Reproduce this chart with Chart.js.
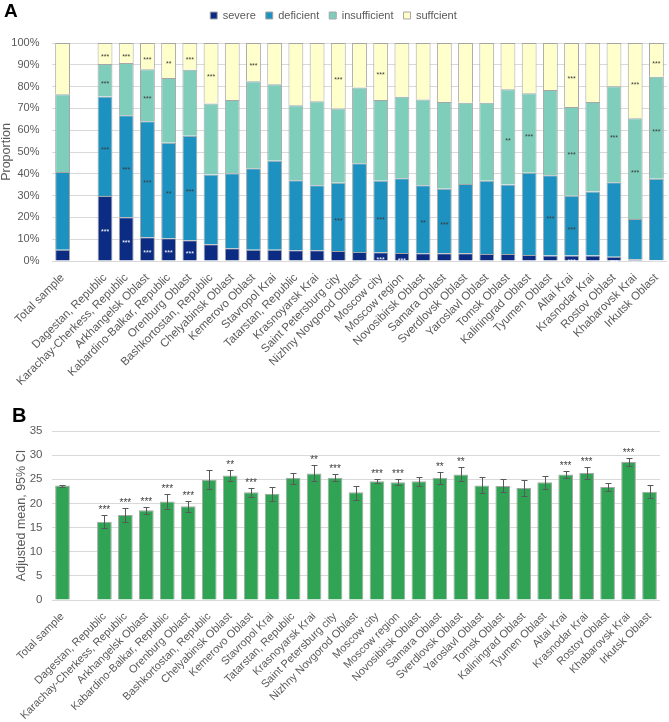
<!DOCTYPE html>
<html lang="en">
<head>
  <meta charset="UTF-8">
  <title>Vitamin D status by region</title>
  <script src="https://cdn.jsdelivr.net/npm/chart.js"></script>
  <style>
    body { margin: 0; background: #fff; font-family: 'Liberation Sans', Arial, sans-serif; }
    .wrap { position: relative; width: 669px; height: 722px; }
    canvas { position: absolute; left: 0; }
    #chartA { top: 0; }
    #chartB { top: 380px; }
    .tag { position: absolute; font-weight: bold; color: #000; line-height: 1; }
  </style>
</head>
<body>
<div class="wrap">
  <canvas id="chartA" width="669" height="390"></canvas>
  <canvas id="chartB" width="669" height="342"></canvas>
  <div class="tag" style="left:4px;top:1px;font-size:19px">A</div>
  <div class="tag" style="left:12px;top:405px;font-size:20px">B</div>
</div>
<script>
  const categories = ['Total sample', '', 'Dagestan, Republic', 'Karachay-Cherkess, Republic', 'Arkhangelsk Oblast',
    'Kabardino-Balkar, Republic', 'Orenburg Oblast', 'Bashkortostan, Republic', 'Chelyabinsk Oblast', 'Kemerovo Oblast',
    'Stavropol Krai', 'Tatarstan, Republic', 'Krasnoyarsk Krai', 'Saint Petersburg city', 'Nizhny Novgorod Oblast',
    'Moscow city', 'Moscow region', 'Novosibirsk Oblast', 'Samara Oblast', 'Sverdlovsk Oblast', 'Yaroslavl Oblast',
    'Tomsk Oblast', 'Kaliningrad Oblast', 'Tyumen Oblast', 'Altai Krai', 'Krasnodar Krai', 'Rostov Oblast',
    'Khabarovsk Krai', 'Irkutsk Oblast'];

  // panel A, share of each status (%)
  const severe = [5.2, null, 29.8, 20.1, 10.9, 10.4, 9.5, 7.7, 5.8, 5.2, 5.2, 4.9, 4.9, 4.6, 4.1, 4.0, 3.7, 3.5, 3.5, 3.5, 3.2, 3.2, 2.8, 2.5, 2.5, 2.5, 2.0, 0.8, 0.3];
  const deficient = [35.6, null, 45.7, 46.8, 53.2, 43.9, 47.9, 32.0, 34.4, 37.3, 40.8, 32.1, 29.9, 31.3, 40.7, 32.8, 34.3, 31.2, 29.6, 31.8, 33.6, 31.9, 37.7, 36.8, 27.4, 29.4, 34.1, 18.5, 37.4];
  const insufficient = [35.7, null, 14.9, 23.9, 23.9, 29.6, 30.3, 32.6, 33.7, 39.9, 35.1, 34.5, 38.5, 34.0, 34.8, 37.0, 37.3, 39.4, 39.8, 37.3, 35.8, 43.7, 36.5, 39.1, 40.7, 41.0, 44.1, 46.2, 46.8];
  const sufficient = [23.5, null, 9.6, 9.2, 12.0, 16.1, 12.3, 27.7, 26.1, 17.6, 18.9, 28.5, 26.7, 30.1, 20.4, 26.2, 24.7, 25.9, 27.1, 27.4, 27.4, 21.2, 23.0, 21.6, 29.4, 27.1, 19.8, 34.5, 15.5];

  const severeStars = ['', '', '***', '***', '***', '***', '***', '', '', '', '', '', '', '', '', '***', '***', '', '', '', '', '', '', '', '***', '', '***', '***', '***'];
  const deficientStars = ['', '', '***', '***', '***', '**', '***', '', '', '', '', '', '', '***', '', '***', '', '**', '***', '', '', '', '', '***', '***', '', '', '', ''];
  const insufficientStars = ['', '', '***', '', '***', '', '', '', '', '', '', '', '', '', '', '', '', '', '', '', '', '**', '***', '', '***', '', '***', '***', '***'];
  const sufficientStars = ['', '', '***', '***', '***', '**', '***', '***', '', '***', '', '', '', '***', '', '***', '', '', '', '', '', '', '', '', '***', '', '', '***', '***'];

  // panel B, adjusted mean with 95% CI
  const adjMean = [23.7, null, 16.2, 17.6, 18.6, 20.4, 19.4, 24.9, 25.8, 22.3, 22.0, 25.3, 26.2, 25.3, 22.3, 24.6, 24.4, 24.6, 25.3, 26.0, 23.7, 23.6, 23.2, 24.4, 26.0, 26.3, 23.4, 28.6, 22.4];
  const ciLow = [23.5, null, 14.9, 16.1, 17.9, 18.8, 18.3, 23.0, 24.6, 21.4, 20.6, 24.0, 24.6, 24.6, 20.8, 24.3, 23.9, 23.7, 24.1, 24.6, 22.1, 22.3, 21.5, 22.9, 25.3, 25.0, 22.6, 27.8, 21.1];
  const ciHigh = [23.9, null, 17.6, 19.1, 19.3, 21.9, 20.4, 26.9, 26.9, 23.1, 23.3, 26.4, 27.9, 26.0, 23.6, 25.0, 25.0, 25.5, 26.5, 27.5, 25.4, 25.0, 24.8, 25.7, 26.8, 27.6, 24.2, 29.4, 23.8];
  const meanStars = ['', '', '***', '***', '***', '***', '***', '', '**', '***', '', '', '**', '***', '', '***', '***', '', '**', '**', '', '', '', '', '***', '***', '', '***', ''];

  const fam = "'Liberation Sans', Arial, sans-serif";
  const txtGray = '#595959';
  const gridGray = '#d9d9d9';
  const edge = '#a6a6a6';

  const starsA = [severeStars, deficientStars, insufficientStars, sufficientStars];

  // significance marks in the middle of each stacked segment
  const segmentStars = {
    id: 'segmentStars',
    afterDatasetsDraw(chart) {
      const ctx = chart.ctx;
      ctx.save();
      ctx.font = '7px ' + fam;
      ctx.textAlign = 'center';
      starsA.forEach((stars, d) => {
        chart.getDatasetMeta(d).data.forEach((bar, i) => {
          if (!stars[i]) return;
          ctx.fillStyle = d === 0 ? '#ffffff' : '#3a3a3a';
          ctx.fillText(stars[i], bar.x, (bar.y + bar.base) / 2 + 4);
        });
      });
      ctx.restore();
    }
  };

  // error bars + marks above them
  const ciBars = {
    id: 'ciBars',
    afterDatasetsDraw(chart) {
      const ctx = chart.ctx;
      const y = chart.scales.y;
      ctx.save();
      ctx.strokeStyle = '#595959';
      ctx.lineWidth = 1;
      ctx.fillStyle = '#404040';
      ctx.font = '10px ' + fam;
      ctx.textAlign = 'center';
      chart.getDatasetMeta(0).data.forEach((bar, i) => {
        if (adjMean[i] == null) return;
        const x = Math.round(bar.x) + 0.5;
        const top = Math.round(y.getPixelForValue(ciHigh[i])) + 0.5;
        const bot = Math.round(y.getPixelForValue(ciLow[i])) + 0.5;
        ctx.beginPath();
        ctx.moveTo(x, top); ctx.lineTo(x, bot);
        ctx.moveTo(x - 3, top); ctx.lineTo(x + 3, top);
        ctx.moveTo(x - 3, bot); ctx.lineTo(x + 3, bot);
        ctx.stroke();
        if (meanStars[i]) ctx.fillText(meanStars[i], bar.x, top - 3);
      });
      ctx.restore();
    }
  };

  new Chart(document.getElementById('chartA'), {
    type: 'bar',
    data: {
      labels: categories,
      datasets: [
        { label: 'severe', data: severe, backgroundColor: '#0c2c84', borderColor: edge, borderWidth: 1 },
        { label: 'deficient', data: deficient, backgroundColor: '#1d91c0', borderColor: edge, borderWidth: 1 },
        { label: 'insufficient', data: insufficient, backgroundColor: '#7fcdbb', borderColor: edge, borderWidth: 1 },
        { label: 'suffcient', data: sufficient, backgroundColor: '#ffffcc', borderColor: edge, borderWidth: 1 }
      ]
    },
    options: {
      responsive: false,
      animation: false,
      layout: { padding: { top: 0, left: 0, right: 2, bottom: 0 } },
      datasets: { bar: { barPercentage: 0.7, categoryPercentage: 1 } },
      plugins: {
        legend: {
          position: 'top',
          labels: { font: { family: fam, size: 11 }, color: txtGray, boxWidth: 7, boxHeight: 7, padding: 10 }
        },
        // empty spacer between legend and plot
        title: { display: true, text: '', weight: 100, padding: 0, font: { size: 12, lineHeight: 1 } },
        tooltip: { enabled: false }
      },
      scales: {
        x: {
          stacked: true,
          grid: { display: false },
          border: { display: false },
          ticks: { autoSkip: false, minRotation: 45, maxRotation: 45, padding: 2, color: txtGray, font: { family: fam, size: 11.5 } },
          afterFit(s) { s.height = 129; }
        },
        y: {
          stacked: true,
          min: 0,
          max: 100,
          ticks: { stepSize: 10, padding: 12.5, color: txtGray, font: { family: fam, size: 11 }, callback: v => v + '%' },
          grid: { color: gridGray, drawTicks: false },
          border: { display: false },
          title: { display: true, text: 'Proportion', color: txtGray, font: { family: fam, size: 12.5, lineHeight: 1 }, padding: { top: 0, bottom: 0 } },
          afterFit(s) { s.width = 52; }
        }
      }
    },
    plugins: [segmentStars]
  });

  new Chart(document.getElementById('chartB'), {
    type: 'bar',
    data: {
      labels: categories,
      datasets: [
        { label: 'Adjusted mean', data: adjMean, backgroundColor: '#31a354', borderColor: edge, borderWidth: 1 }
      ]
    },
    options: {
      responsive: false,
      animation: false,
      layout: { padding: { top: 51, left: 0, right: 9, bottom: 0 } },
      datasets: { bar: { barPercentage: 0.7, categoryPercentage: 1 } },
      plugins: { legend: { display: false }, tooltip: { enabled: false } },
      scales: {
        x: {
          grid: { display: false },
          border: { display: false },
          ticks: { autoSkip: false, minRotation: 45, maxRotation: 45, padding: 2, color: txtGray, font: { family: fam, size: 11 } },
          afterFit(s) { s.height = 122; }
        },
        y: {
          min: 0,
          max: 35,
          ticks: { stepSize: 5, padding: 9.5, color: txtGray, font: { family: fam, size: 11.5 } },
          grid: { color: gridGray, drawTicks: false },
          border: { display: false },
          title: { display: true, text: 'Adjusted mean, 95% CI', color: txtGray, font: { family: fam, size: 12.5, lineHeight: 1 }, padding: { top: 15, bottom: 0 } },
          afterFit(s) { s.width = 52; }
        }
      }
    },
    plugins: [ciBars]
  });
</script>
</body>
</html>
